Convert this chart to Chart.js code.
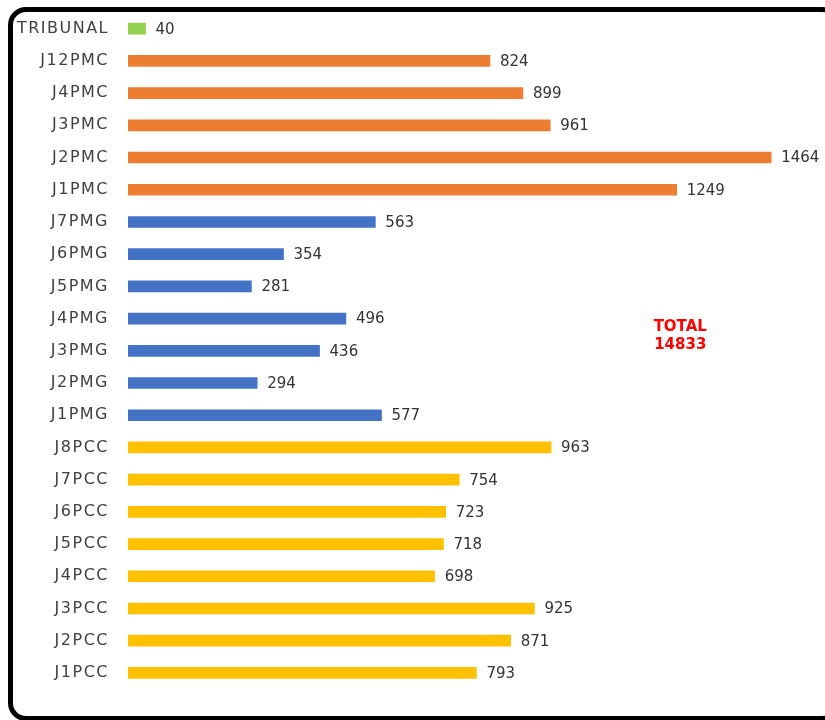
<!DOCTYPE html>
<html>
<head>
<meta charset="utf-8">
<script src="https://cdn.jsdelivr.net/npm/chart.js@4.4.1/dist/chart.umd.min.js"></script>
<style>
  html, body { margin: 0; padding: 0; background: #fff; overflow: hidden; }
  .frame {
    position: absolute; left: 8px; top: 7px; width: 822px; height: 704px;
    border: 5px solid #000; border-radius: 18px;
  }
  .wrap { position: absolute; left: 0; top: -8px; width: 825px; height: 728px; }
</style>
</head>
<body>
<div class="frame"></div>
<div class="wrap"><canvas id="chart"></canvas></div>
<script>
const labels = ['TRIBUNAL', 'J12PMC', 'J4PMC', 'J3PMC', 'J2PMC', 'J1PMC',
  'J7PMG', 'J6PMG', 'J5PMG', 'J4PMG', 'J3PMG', 'J2PMG', 'J1PMG',
  'J8PCC', 'J7PCC', 'J6PCC', 'J5PCC', 'J4PCC', 'J3PCC', 'J2PCC', 'J1PCC'];
const values = [40, 824, 899, 961, 1464, 1249,
  563, 354, 281, 496, 436, 294, 577,
  963, 754, 723, 718, 698, 925, 871, 793];
const groups = ['TRIB', 'PMC', 'PMC', 'PMC', 'PMC', 'PMC',
  'PMG', 'PMG', 'PMG', 'PMG', 'PMG', 'PMG', 'PMG',
  'PCC', 'PCC', 'PCC', 'PCC', 'PCC', 'PCC', 'PCC', 'PCC'];
const groupColors = { TRIB: '#92D050', PMC: '#ED7D31', PMG: '#4472C4', PCC: '#FFC000' };
const totalText = ['TOTAL', '14833'];

const FONT = '"DejaVu Sans", sans-serif';

// wider tracking for the category labels only
const labelSpacing = {
  id: 'labelSpacing',
  beforeDraw(chart) { chart.ctx.letterSpacing = '1.5px'; },
  beforeDatasetsDraw(chart) { chart.ctx.letterSpacing = '0px'; },
};

const valueLabels = {
  id: 'valueLabels',
  afterDatasetsDraw(chart) {
    const { ctx } = chart;
    const meta = chart.getDatasetMeta(0);
    ctx.save();
    ctx.font = '15px ' + FONT;
    ctx.fillStyle = '#333';
    ctx.textAlign = 'left';
    ctx.textBaseline = 'middle';
    meta.data.forEach((bar, i) => {
      ctx.fillText(String(values[i]), bar.x + 10, bar.y + 1);
    });

    // total note, placed through the scales
    const x = chart.scales.x.getPixelForValue(1257);
    const y = (chart.scales.y.getPixelForValue(9) + chart.scales.y.getPixelForValue(10)) / 2;
    ctx.font = 'bold 15px ' + FONT;
    ctx.fillStyle = '#FF0000';
    ctx.textAlign = 'center';
    ctx.fillText(totalText[0], x, y - 8);
    ctx.fillText(totalText[1], x, y + 10);
    ctx.restore();
  }
};

new Chart(document.getElementById('chart'), {
  type: 'bar',
  data: {
    labels,
    datasets: [{
      data: values,
      backgroundColor: groups.map((g) => groupColors[g]),
      barThickness: 11,
    }],
  },
  options: {
    indexAxis: 'y',
    responsive: true,
    maintainAspectRatio: false,
    animation: false,
    layout: { padding: { top: 0, bottom: 31, right: 38, left: 0 } },
    plugins: { legend: { display: false }, tooltip: { enabled: false } },
    scales: {
      x: { display: false, min: 0, max: 1500 },
      y: {
        grid: { display: false },
        border: { display: false },
        ticks: { color: '#404040', font: { family: FONT, size: 16 }, padding: 11 },
        afterFit(scale) { scale.width = 128; },
      },
    },
  },
  plugins: [labelSpacing, valueLabels],
});
</script>
</body>
</html>
